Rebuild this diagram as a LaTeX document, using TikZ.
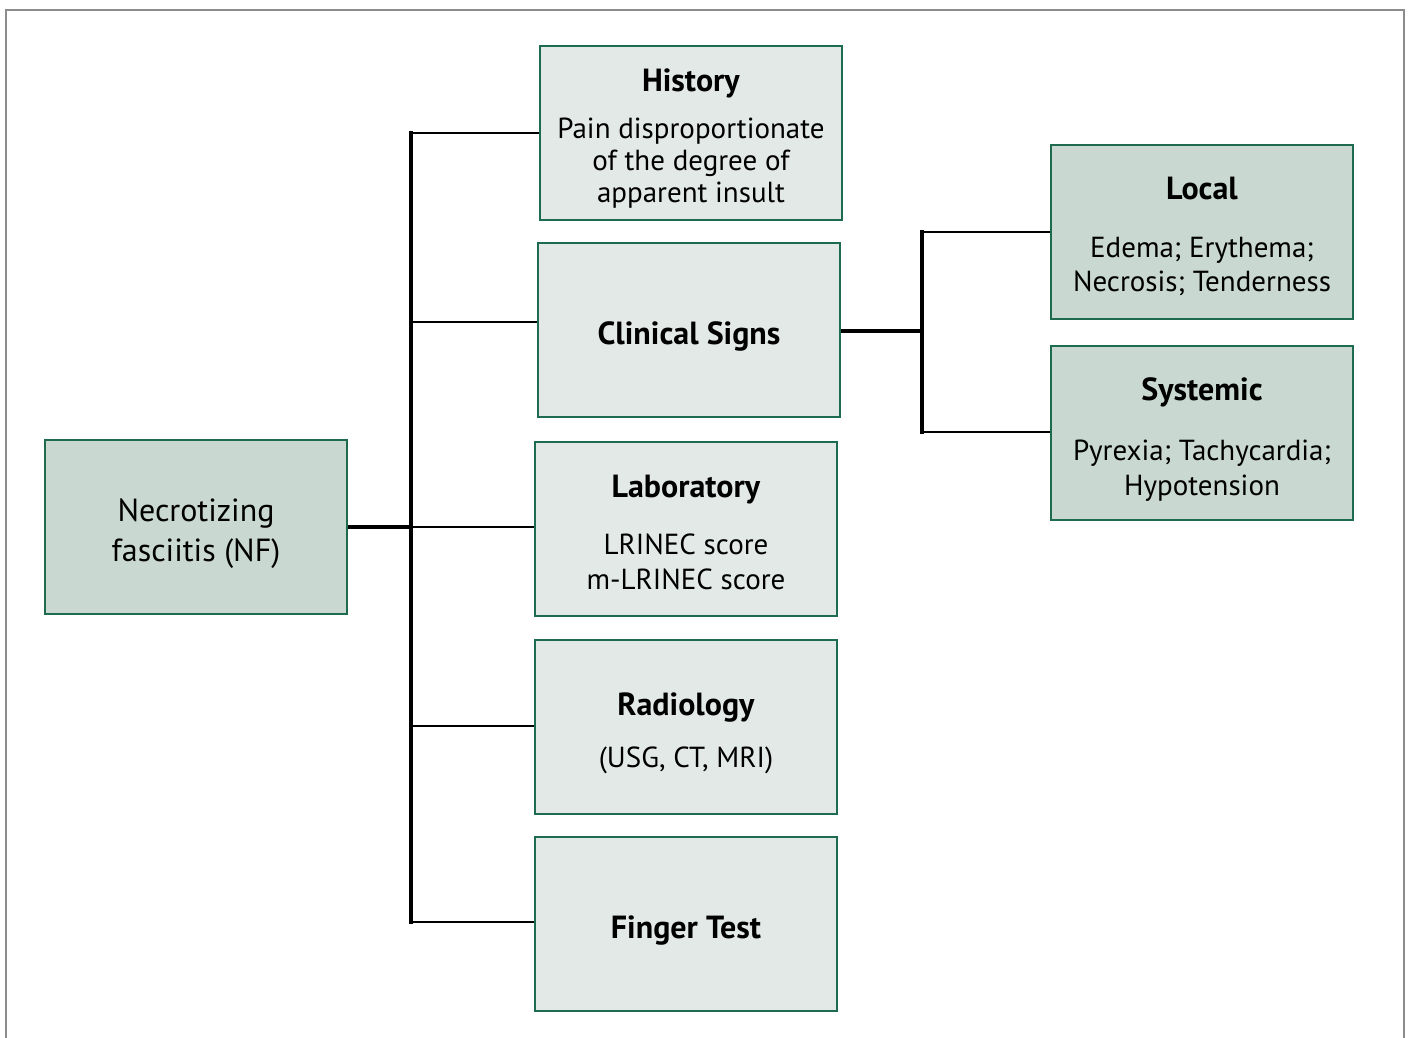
\documentclass[tikz,border=0pt]{standalone}
\usepackage{fontspec}
\setmainfont{PT Sans}
\definecolor{boxgreen}{HTML}{1F6B4F}
\definecolor{darkfill}{HTML}{C9D8D0}
\definecolor{lightfill}{HTML}{E2E9E6}
\definecolor{framegray}{HTML}{8C8C8C}
\newcommand{\ttl}[1]{\textbf{\fontsize{32}{34}\selectfont #1}}
\newcommand{\stk}[2][-7pt]{\raisebox{#1}[\height][\depth]{\begin{tabular}{@{}c@{}}#2\end{tabular}}}
\begin{document}
\begin{tikzpicture}[x=1pt,y=-1pt,
  basebox/.style={draw=boxgreen, line width=2pt, minimum width=302pt, minimum height=174pt,
    align=center, inner sep=0pt, font=\fontsize{29}{35}\selectfont, text=black},
  dbox/.style={basebox, fill=darkfill},
  lbox/.style={basebox, fill=lightfill},
  thickln/.style={line width=4pt, black},
  thinln/.style={line width=2pt, black},
]
\useasboundingbox (0,0) rectangle (1408,1038);
\draw[framegray, line width=2pt] (6,1040) -- (6,10) -- (1404,10) -- (1404,1040);

\node[dbox, font=\fontsize{32}{40}\selectfont] (nf) at (196,527) {\stk[-6pt]{Necrotizing\\fasciitis (NF)}};
\node[lbox, font=\fontsize{29}{32}\selectfont] (hist) at (691,133) {\stk{\ttl{History}\\[15pt]Pain disproportionate\\of the degree of\\apparent insult}};
\node[lbox] (clin) at (689,330) {\stk{\ttl{Clinical Signs}}};
\node[lbox] (lab) at (686,529) {\stk{\ttl{Laboratory}\\[22pt]LRINEC score\\m-LRINEC score}};
\node[lbox] (rad) at (686,727) {\stk{\ttl{Radiology}\\[17pt](USG, CT, MRI)}};
\node[lbox] (fing) at (686,924) {\stk{\ttl{Finger Test}}};
\node[dbox, font=\fontsize{29}{34}\selectfont] (loc) at (1202,232) {\stk{\ttl{Local}\\[24pt]Edema; Erythema;\\Necrosis; Tenderness}};
\node[dbox] (sys) at (1202,433) {\stk[-8pt]{\ttl{Systemic}\\[25pt]Pyrexia; Tachycardia;\\Hypotension}};

\coordinate (tTop) at (411,133);
\coordinate (tBot) at (411,922);
\coordinate (tMid) at (411,527);
\coordinate (rTop) at (922,232);
\coordinate (rBot) at (922,432);
\coordinate (rMid) at (922,331);

\draw[thickln, line cap=rect] (tTop) -- (tBot);
\draw[thickln] (nf.east |- tMid) -- (tMid);
\draw[thinln] (tTop) -- (tTop -| hist.west);
\draw[thinln] (411,322) -- (clin.west |- 0,322);
\draw[thinln] (tMid) -- (lab.west |- tMid);
\draw[thinln] (411,726) -- (rad.west |- 0,726);
\draw[thinln] (tBot) -- (tBot -| fing.west);

\draw[thickln, line cap=rect] (rTop) -- (rBot);
\draw[thickln] (clin.east |- rMid) -- (rMid);
\draw[thinln] (rTop) -- (rTop -| loc.west);
\draw[thinln] (rBot) -- (rBot -| sys.west);
\end{tikzpicture}
\end{document}
